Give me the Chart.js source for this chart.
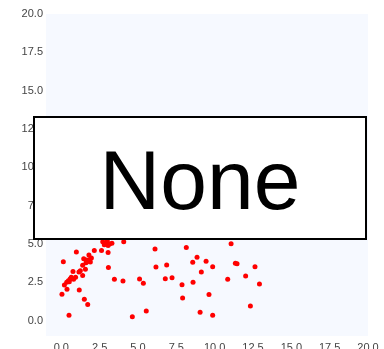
<!DOCTYPE html>
<html>
<head>
<meta charset="utf-8">
<script src="https://cdn.jsdelivr.net/npm/chart.js@4"></script>
<style>
  body { margin: 0; background: #fff; }
</style>
</head>
<body>
<canvas id="myChart" width="384" height="349"></canvas>
<script>
// 散布図のデータ
const xValues = [2.7, 2.9, 3.0, 3.15, 3.3, 2.8, 3.05, 4.07, 11.07, 0.98, 2.15, 2.62, 3.05, 8.15, 6.11,
  0.13, 1.8, 1.46, 1.65, 1.87, 1.96, 1.78, 1.61, 1.89, 1.39, 1.57, 3.07, 1.24, 1.15, 0.76, 1.39, 3.46,
  0.93, 0.65, 0.57, 0.46, 0.52, 0.35, 0.8, 0.2, 0.37, 1.17, 0.04, 1.5, 1.72, 0.5,
  4.02, 4.63, 5.1, 5.35, 5.54, 6.17, 6.87, 6.78, 7.22, 7.87, 7.91,
  8.85, 8.57, 9.44, 9.87, 11.35, 11.46, 12.63, 9.13, 8.59, 10.85, 12.02, 12.92, 9.63, 12.33, 9.05, 9.87];
const yValues = [5.15, 5.05, 5.2, 5.0, 5.05, 4.95, 4.9, 5.15, 5.02, 4.48, 4.57, 4.57, 4.44, 4.77, 4.68,
  3.85, 4.29, 4.04, 3.96, 4.0, 4.09, 3.87, 3.78, 3.83, 3.61, 3.35, 3.46, 3.26, 3.18, 3.2, 2.94, 2.7,
  2.83, 2.83, 2.72, 2.61, 2.54, 2.5, 2.7, 2.33, 2.05, 2.0, 1.72, 1.4, 1.05, 0.35,
  2.59, 0.26, 2.72, 2.44, 0.63, 3.5, 3.63, 2.74, 2.8, 2.35, 1.48,
  4.14, 3.81, 3.87, 3.52, 3.74, 3.72, 3.52, 3.18, 2.5, 2.7, 2.92, 2.39, 1.7, 0.96, 0.55, 0.35];
const tickValues = [0, 2.5, 5, 7.5, 10, 12.5, 15, 17.5, 20];
const boxLabel = "None";

const points = xValues.map((x, i) => ({ x: x, y: yValues[i] }));

// プロット領域の背景
const bgPlugin = {
  id: 'bg',
  beforeDraw(chart) {
    const a = chart.chartArea;
    chart.ctx.save();
    chart.ctx.fillStyle = '#f6f9ff';
    chart.ctx.fillRect(a.left, a.top, a.right - a.left, a.bottom - a.top);
    chart.ctx.restore();
  }
};

// 真ん中の白い箱
const boxPlugin = {
  id: 'box',
  afterDraw(chart) {
    const c = chart.ctx;
    c.save();
    c.fillStyle = '#fff';
    c.fillRect(34, 117, 332, 122);
    c.strokeStyle = '#000';
    c.lineWidth = 2;
    c.strokeRect(34, 117, 332, 122);
    c.fillStyle = '#000';
    c.font = "84px 'Liberation Sans', Arial, sans-serif";
    c.textAlign = 'center';
    c.textBaseline = 'alphabetic';
    c.fillText(boxLabel, 200, 209);
    c.restore();
  }
};

function fixTicks(scale) {
  scale.ticks = tickValues.map(v => ({ value: v }));
}

let ctx = document.getElementById("myChart");
let myChart = new Chart(ctx, {
  type: 'scatter',
  data: {
    datasets: [{
      data: points,
      backgroundColor: '#ff0000',
      borderColor: '#ff0000',
      pointRadius: 2.5,
      borderWidth: 0
    }]
  },
  options: {
    responsive: false,
    animation: false,
    layout: { padding: { top: 14, right: 16, left: 0, bottom: 0 } },
    plugins: {
      legend: { display: false },
      tooltip: { enabled: false }
    },
    scales: {
      x: {
        min: -1,
        max: 20,
        afterBuildTicks: fixTicks,
        afterFit(scale) { scale.height = 13; },
        grid: { display: false, drawTicks: false },
        border: { display: false },
        ticks: {
          padding: 5,
          color: '#444',
          font: { family: "'Liberation Sans', Arial, sans-serif", size: 11 },
          callback: v => v.toFixed(1)
        }
      },
      y: {
        min: -1,
        max: 20,
        afterBuildTicks: fixTicks,
        afterFit(scale) { scale.width = 46; },
        grid: { display: false, drawTicks: false },
        border: { display: false },
        ticks: {
          padding: 3,
          color: '#444',
          font: { family: "'Liberation Sans', Arial, sans-serif", size: 11 },
          callback: v => v.toFixed(1)
        }
      }
    }
  },
  plugins: [bgPlugin, boxPlugin]
});
</script>
</body>
</html>
